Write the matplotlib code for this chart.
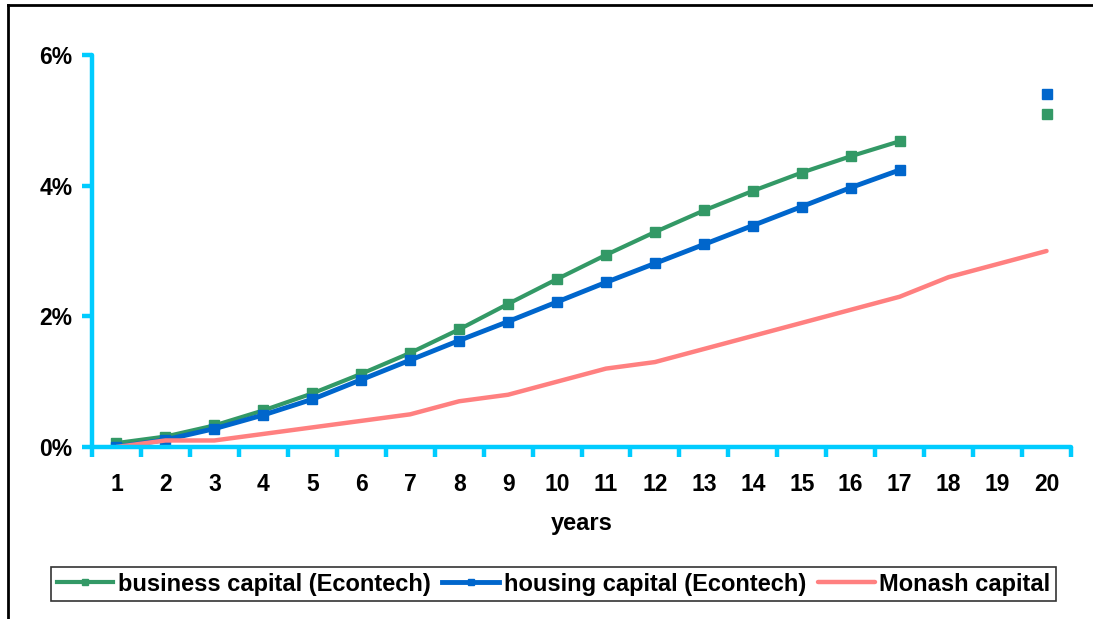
import matplotlib
matplotlib.use("Agg")
import matplotlib.pyplot as plt
from matplotlib.lines import Line2D
from matplotlib.ticker import FixedLocator, FuncFormatter

plt.rcParams['font.family'] = ['Liberation Sans', 'DejaVu Sans']
plt.rcParams['font.weight'] = 'bold'

# data (percent)
years = list(range(1, 21))
business = [0.06, 0.16, 0.33, 0.56, 0.82, 1.12, 1.44, 1.80, 2.19, 2.57,
            2.94, 3.29, 3.62, 3.92, 4.20, 4.45, 4.68]
housing = [0.00, 0.11, 0.28, 0.49, 0.73, 1.03, 1.33, 1.63, 1.92, 2.22,
           2.52, 2.81, 3.10, 3.39, 3.68, 3.97, 4.24]
monash = [0.0, 0.1, 0.1, 0.2, 0.3, 0.4, 0.5, 0.7, 0.8, 1.0,
          1.2, 1.3, 1.5, 1.7, 1.9, 2.1, 2.3, 2.6, 2.8, 3.0]
# stray year-20 points
business_20 = 5.10
housing_20 = 5.40

GREEN = '#339966'
BLUE = '#0066CC'
PINK = '#FF8080'
AXIS = '#00CCFF'

fig = plt.figure(figsize=(10.93, 6.19), dpi=100)
ax = fig.add_axes([92 / 1093, 1 - 447 / 619, (1071 - 92) / 1093, (447 - 55) / 619])

ax.plot(years[:len(business)], business, color=GREEN, lw=3, marker='s', ms=6.5,
        label='business capital (Econtech)')
ax.plot(years[:len(housing)], housing, color=BLUE, lw=3.5, marker='s', ms=7,
        label='housing capital (Econtech)')
ax.plot(years, monash, color=PINK, lw=3.2, label='Monash capital', solid_capstyle='round')
ax.plot([20], [housing_20], color=BLUE, marker='s', ms=6.5, ls='none')
ax.plot([20], [business_20], color=GREEN, marker='s', ms=6.5, ls='none')

ax.set_xlim(0.5, 20.5)
ax.set_ylim(0, 6)

for s in ['top', 'right']:
    ax.spines[s].set_visible(False)
for s in ['left', 'bottom']:
    ax.spines[s].set_color(AXIS)
    ax.spines[s].set_linewidth(3.2)
    ax.spines[s].set_capstyle('round')

# x: ticks at category boundaries, labels at centres
ax.xaxis.set_major_locator(FixedLocator([i + 0.5 for i in range(0, 21)]))
ax.xaxis.set_minor_locator(FixedLocator(years))
ax.xaxis.set_major_formatter(FuncFormatter(lambda v, p: ''))
ax.xaxis.set_minor_formatter(FuncFormatter(lambda v, p: f'{int(round(v))}'))
ax.tick_params(axis='x', which='major', length=7, width=3.2, color=AXIS, direction='out')
ax.tick_params(axis='x', which='minor', length=0, pad=19, labelsize=16.5)

ax.set_yticks([0, 2, 4, 6])
ax.yaxis.set_major_formatter(FuncFormatter(lambda v, p: f'{int(v)}%'))
ax.tick_params(axis='y', length=7, width=3.2, color=AXIS, direction='out', pad=7, labelsize=16.5)

for lab in ax.get_xticklabels(minor=True) + ax.get_yticklabels():
    lab.set_fontweight('bold')

ax.set_xlabel('years', fontsize=17, fontweight='bold', labelpad=11)

leg = fig.legend(loc='center', bbox_to_anchor=(553.5 / 1093, 1 - 584 / 619), ncol=3,
                 fontsize=17, frameon=True, fancybox=False, edgecolor='black',
                 handlelength=2.4, handletextpad=0.2, columnspacing=0.5,
                 borderpad=0.25, markerscale=0.6)
leg.get_frame().set_linewidth(1.2)
for t in leg.get_texts():
    t.set_fontweight('bold')

# outer frame (partly cropped in the reference)
x0 = 8 / 1093
y0 = 1 - 5 / 619
fig.add_artist(Line2D([x0, x0], [0, y0], color='black', lw=2, transform=fig.transFigure))
fig.add_artist(Line2D([x0, 1], [y0, y0], color='black', lw=2, transform=fig.transFigure))

fig.savefig('out.png', dpi=100)
